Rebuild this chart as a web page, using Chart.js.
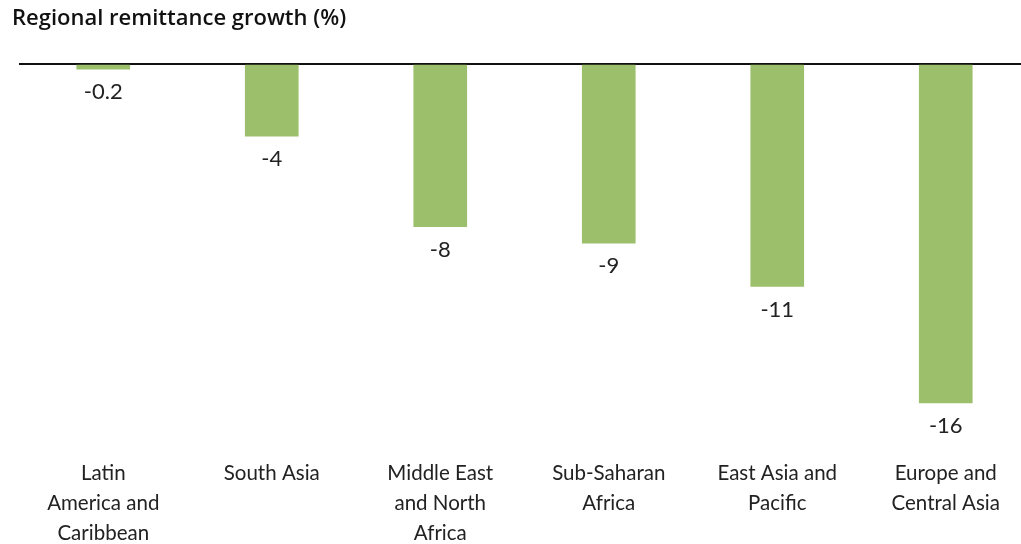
<!DOCTYPE html>
<html>
<head>
<meta charset="utf-8">
<script src="https://cdn.jsdelivr.net/npm/chart.js@4/dist/chart.umd.min.js"></script>
<style>
	html, body { margin: 0; padding: 0; background: #fff; overflow: hidden; }
	#wrap { position: relative; width: 1030px; height: 544px; }
</style>
</head>
<body>
<div id="wrap"><canvas id="remit_chart"></canvas></div>
<script>
// regions, left to right
const regions = [
	['Latin', 'America and', 'Caribbean'],
	'South Asia',
	['Middle East', 'and North', 'Africa'],
	['Sub-Saharan', 'Africa'],
	['East Asia and', 'Pacific'],
	['Europe and', 'Central Asia']
];
// bar heights (%)
const growth = [-0.25, -3.5, -7.9, -8.7, -10.8, -16.45];
// printed value labels
const value_labels = ['-0.2', '-4', '-8', '-9', '-11', '-16'];

const font_family = 'Lato, "Noto Sans", sans-serif';

const value_label_plugin = {
	id: 'value_labels',
	afterDatasetsDraw(chart) {
		const ctx = chart.ctx;
		const meta = chart.getDatasetMeta(0);
		ctx.save();
		ctx.font = '22px ' + font_family;
		ctx.fillStyle = '#222';
		ctx.textAlign = 'center';
		ctx.textBaseline = 'middle';
		meta.data.forEach((bar, i) => {
			ctx.fillText(value_labels[i], bar.x, bar.y + 23);
		});
		ctx.restore();
	}
};

const ctx = document.getElementById('remit_chart').getContext('2d');

const remit_chart = new Chart(ctx, {
	type: 'bar',
	data: {
		labels: regions,
		datasets: [{
			label: 'Regional remittance growth',
			data: growth,
			backgroundColor: '#9bbf6b',
			borderWidth: 0,
			barThickness: 53
		}]
	},
	options: {
		responsive: true,
		maintainAspectRatio: false,
		animation: false,
		layout: {
			padding: { left: 12, right: 0, top: 0, bottom: 0 }
		},
		scales: {
			x: {
				position: 'bottom',
				grid: { display: false, drawTicks: false },
				border: { display: false },
				ticks: {
					color: '#222',
					padding: 4,
					maxRotation: 0,
					autoSkip: false,
					font: { family: font_family, size: 20.5, lineHeight: 1.47 }
				},
				afterFit: (s) => { s.height = 90; }
			},
			y: {
				min: -18.93,
				max: 0,
				ticks: { display: false, stepSize: 5 },
				grid: {
					drawTicks: false,
					lineWidth: 2,
					color: (c) => (c.tick && c.tick.value === 0 ? '#111' : 'rgba(0,0,0,0)')
				},
				border: { display: false },
				afterFit: (s) => { s.width = 7; }
			}
		},
		plugins: {
			legend: { display: false },
			tooltip: { enabled: false },
			title: {
				display: true,
				text: 'Regional remittance growth (%)',
				align: 'start',
				color: '#111',
				padding: { top: 6, bottom: 31.6 },
				font: { family: '"Open Sans", Lato, sans-serif', size: 22, weight: 600, lineHeight: 1.2 }
			}
		}
	},
	plugins: [value_label_plugin]
});
</script>
</body>
</html>
